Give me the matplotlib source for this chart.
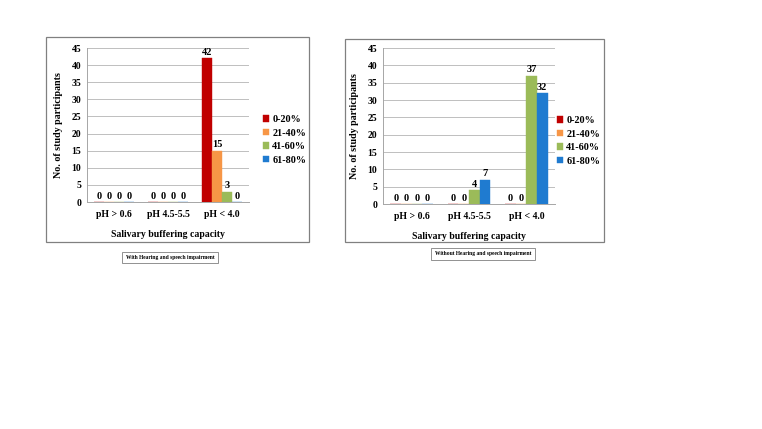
import matplotlib.pyplot as plt
from matplotlib.patches import Rectangle
import numpy as np

plt.rcParams['font.family'] = ['Liberation Serif', 'DejaVu Serif']
plt.rcParams['font.weight'] = 'bold'

categories = ['pH > 0.6', 'pH 4.5-5.5', 'pH < 4.0']
series = ['0-20%', '21-40%', '41-60%', '61-80%']
colors = ['#C00000', '#F79646', '#9BBB59', '#1F7BD0']

with_impair = [[0, 0, 42], [0, 0, 15], [0, 0, 3], [0, 0, 0]]
without_impair = [[0, 0, 0], [0, 0, 0], [0, 4, 37], [0, 7, 32]]

W, H = 762, 429
fig = plt.figure(figsize=(W / 100, H / 100), dpi=100)


def px(x0, y0, x1, y1):
    return [x0 / W, 1 - y1 / H, (x1 - x0) / W, (y1 - y0) / H]


def draw_chart(frame, axbox, legxy, capbox, caption, data):
    fig.patches.append(Rectangle((frame[0] / W, 1 - frame[3] / H),
                                 (frame[2] - frame[0]) / W, (frame[3] - frame[1]) / H,
                                 transform=fig.transFigure, fill=False,
                                 edgecolor='#808080', lw=0.9))
    ax = fig.add_axes(px(*axbox))
    x = np.arange(len(categories))
    w = 0.185
    handles = []
    for i, (name, vals) in enumerate(zip(series, data)):
        b = ax.bar(x + (i - 1.5) * w, vals, w, color=colors[i], edgecolor=colors[i],
                   lw=0.3, label=name, zorder=3)
        ax.bar_label(b, padding=1, fontsize=7.5, fontweight='bold')
        handles.append(b)
    ax.set_xlim(-0.5, 2.5)
    ax.set_ylim(0, 45)
    ax.set_yticks(range(0, 46, 5))
    ax.set_xticks(x)
    ax.set_xticklabels(categories)
    ax.tick_params(length=0, labelsize=7, pad=4)
    ax.tick_params(axis='x', pad=6)
    ax.grid(axis='y', color='#BFBFBF', lw=0.7, zorder=0)
    for s in ['top', 'right']:
        ax.spines[s].set_visible(False)
    for s in ['left', 'bottom']:
        ax.spines[s].set_color('#A6A6A6')
        ax.spines[s].set_linewidth(0.7)
    ax.set_xlabel('Salivary buffering capacity', fontsize=7, fontweight='bold', labelpad=8)
    ax.set_ylabel('No. of study participants', fontsize=7.2, fontweight='bold', labelpad=6)
    fig.legend(handles=handles, loc='center left',
               bbox_to_anchor=(legxy[0] / W, 1 - legxy[1] / H),
               frameon=False, fontsize=7.3, handlelength=0.6, handleheight=0.6,
               handletextpad=0.3, labelspacing=0.45, borderpad=0)
    fig.text((capbox[0] + capbox[2]) / 2 / W, 1 - (capbox[1] + capbox[3]) / 2 / H,
             caption, fontsize=4, ha='center', va='center',
             bbox=dict(boxstyle='square,pad=0.6', fc='white', ec='#808080', lw=0.6))
    return ax


draw_chart((46, 37, 309, 242), (87, 48, 249, 202), (258, 140), (114, 252, 226, 263),
           'With Hearing and speech impairment', with_impair)
draw_chart((345, 39, 604, 242), (383, 48, 555, 204), (552, 141), (426, 248, 540, 260),
           'Without Hearing and speech impairment', without_impair)

fig.savefig('out.png', dpi=100)
